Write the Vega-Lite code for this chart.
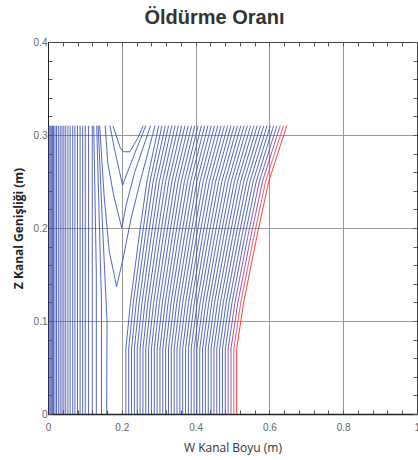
{
"$schema":"https://vega.github.io/schema/vega-lite/v6.json",
"width":369,"height":372,
"autosize":{"type":"none"},
"padding":{"left":48,"top":42,"right":1,"bottom":46},
"background":"white",
"title":{"text":"Öldürme Oranı","font":"Liberation Sans","fontSize":20,"fontWeight":"bold","color":"#333333","anchor":"middle","dx":-18,"dy":23,"offset":12,"baseline":"bottom"},
"config":{"view":{"stroke":"#444444","strokeWidth":1}},
"data":{"values":[
{"k":1,"p":0,"w":0.003,"z":0},{"k":1,"p":1,"w":0.003,"z":0.31},
{"k":2,"p":0,"w":0.006,"z":0},{"k":2,"p":1,"w":0.006,"z":0.31},
{"k":3,"p":0,"w":0.009,"z":0},{"k":3,"p":1,"w":0.009,"z":0.31},
{"k":4,"p":0,"w":0.012,"z":0},{"k":4,"p":1,"w":0.012,"z":0.31},
{"k":5,"p":0,"w":0.015,"z":0},{"k":5,"p":1,"w":0.015,"z":0.31},
{"k":6,"p":0,"w":0.019,"z":0},{"k":6,"p":1,"w":0.019,"z":0.31},
{"k":7,"p":0,"w":0.023,"z":0},{"k":7,"p":1,"w":0.023,"z":0.31},
{"k":8,"p":0,"w":0.028,"z":0},{"k":8,"p":1,"w":0.028,"z":0.31},
{"k":9,"p":0,"w":0.033,"z":0},{"k":9,"p":1,"w":0.033,"z":0.31},
{"k":10,"p":0,"w":0.038,"z":0},{"k":10,"p":1,"w":0.038,"z":0.31},
{"k":11,"p":0,"w":0.043,"z":0},{"k":11,"p":1,"w":0.043,"z":0.31},
{"k":12,"p":0,"w":0.048,"z":0},{"k":12,"p":1,"w":0.048,"z":0.31},
{"k":13,"p":0,"w":0.054,"z":0},{"k":13,"p":1,"w":0.054,"z":0.31},
{"k":14,"p":0,"w":0.060,"z":0},{"k":14,"p":1,"w":0.060,"z":0.31},
{"k":15,"p":0,"w":0.067,"z":0},{"k":15,"p":1,"w":0.067,"z":0.31},
{"k":16,"p":0,"w":0.073,"z":0},{"k":16,"p":1,"w":0.073,"z":0.31},
{"k":17,"p":0,"w":0.080,"z":0},{"k":17,"p":1,"w":0.080,"z":0.31},
{"k":18,"p":0,"w":0.087,"z":0},{"k":18,"p":1,"w":0.087,"z":0.31},
{"k":19,"p":0,"w":0.094,"z":0},{"k":19,"p":1,"w":0.094,"z":0.31},
{"k":20,"p":0,"w":0.101,"z":0},{"k":20,"p":1,"w":0.101,"z":0.31},
{"k":21,"p":0,"w":0.110,"z":0},{"k":21,"p":1,"w":0.110,"z":0.31},
{"k":22,"p":0,"w":0.120,"z":0},{"k":22,"p":1,"w":0.120,"z":0.31},
{"k":23,"p":0,"w":0.131,"z":0},{"k":23,"p":1,"w":0.131,"z":0.15},{"k":23,"p":2,"w":0.124,"z":0.31},
{"k":24,"p":0,"w":0.145,"z":0},{"k":24,"p":1,"w":0.145,"z":0.12},{"k":24,"p":2,"w":0.132,"z":0.31},
{"k":25,"p":0,"w":0.159,"z":0},{"k":25,"p":1,"w":0.160,"z":0.1},{"k":25,"p":2,"w":0.148,"z":0.2},{"k":25,"p":3,"w":0.136,"z":0.31},
{"k":26,"p":0,"w":0.140,"z":0.31},{"k":26,"p":1,"w":0.152,"z":0.235},{"k":26,"p":2,"w":0.166,"z":0.175},{"k":26,"p":3,"w":0.186,"z":0.137},{"k":26,"p":4,"w":0.205,"z":0.17},{"k":26,"p":5,"w":0.225,"z":0.21},{"k":26,"p":6,"w":0.250,"z":0.25},{"k":26,"p":7,"w":0.290,"z":0.31},
{"k":27,"p":0,"w":0.155,"z":0.31},{"k":27,"p":1,"w":0.162,"z":0.27},{"k":27,"p":2,"w":0.178,"z":0.235},{"k":27,"p":3,"w":0.200,"z":0.2},{"k":27,"p":4,"w":0.212,"z":0.225},{"k":27,"p":5,"w":0.235,"z":0.26},{"k":27,"p":6,"w":0.278,"z":0.31},
{"k":28,"p":0,"w":0.168,"z":0.31},{"k":28,"p":1,"w":0.180,"z":0.285},{"k":28,"p":2,"w":0.202,"z":0.246},{"k":28,"p":3,"w":0.225,"z":0.27},{"k":28,"p":4,"w":0.250,"z":0.295},{"k":28,"p":5,"w":0.265,"z":0.31},
{"k":29,"p":0,"w":0.176,"z":0.31},{"k":29,"p":1,"w":0.196,"z":0.286},{"k":29,"p":2,"w":0.205,"z":0.282},{"k":29,"p":3,"w":0.222,"z":0.282},{"k":29,"p":4,"w":0.245,"z":0.298},{"k":29,"p":5,"w":0.258,"z":0.31},
{"k":30,"p":0,"w":0.211,"z":0},{"k":30,"p":1,"w":0.211,"z":0.07},{"k":30,"p":2,"w":0.2235,"z":0.12},{"k":30,"p":3,"w":0.2466,"z":0.19},{"k":30,"p":4,"w":0.268,"z":0.25},{"k":30,"p":5,"w":0.300,"z":0.31},
{"k":31,"p":0,"w":0.2187,"z":0},{"k":31,"p":1,"w":0.2187,"z":0.07},{"k":31,"p":2,"w":0.2313,"z":0.12},{"k":31,"p":3,"w":0.2548,"z":0.19},{"k":31,"p":4,"w":0.2764,"z":0.25},{"k":31,"p":5,"w":0.3089,"z":0.31},
{"k":32,"p":0,"w":0.2264,"z":0},{"k":32,"p":1,"w":0.2264,"z":0.07},{"k":32,"p":2,"w":0.2392,"z":0.12},{"k":32,"p":3,"w":0.263,"z":0.19},{"k":32,"p":4,"w":0.2849,"z":0.25},{"k":32,"p":5,"w":0.3178,"z":0.31},
{"k":33,"p":0,"w":0.2341,"z":0},{"k":33,"p":1,"w":0.2341,"z":0.07},{"k":33,"p":2,"w":0.2471,"z":0.12},{"k":33,"p":3,"w":0.2711,"z":0.19},{"k":33,"p":4,"w":0.2934,"z":0.25},{"k":33,"p":5,"w":0.3267,"z":0.31},
{"k":34,"p":0,"w":0.2418,"z":0},{"k":34,"p":1,"w":0.2418,"z":0.07},{"k":34,"p":2,"w":0.2549,"z":0.12},{"k":34,"p":3,"w":0.2793,"z":0.19},{"k":34,"p":4,"w":0.3018,"z":0.25},{"k":34,"p":5,"w":0.3356,"z":0.31},
{"k":35,"p":0,"w":0.2495,"z":0},{"k":35,"p":1,"w":0.2495,"z":0.07},{"k":35,"p":2,"w":0.2628,"z":0.12},{"k":35,"p":3,"w":0.2875,"z":0.19},{"k":35,"p":4,"w":0.3103,"z":0.25},{"k":35,"p":5,"w":0.3445,"z":0.31},
{"k":36,"p":0,"w":0.2572,"z":0},{"k":36,"p":1,"w":0.2572,"z":0.07},{"k":36,"p":2,"w":0.2707,"z":0.12},{"k":36,"p":3,"w":0.2957,"z":0.19},{"k":36,"p":4,"w":0.3188,"z":0.25},{"k":36,"p":5,"w":0.3534,"z":0.31},
{"k":37,"p":0,"w":0.2649,"z":0},{"k":37,"p":1,"w":0.2649,"z":0.07},{"k":37,"p":2,"w":0.2785,"z":0.12},{"k":37,"p":3,"w":0.3039,"z":0.19},{"k":37,"p":4,"w":0.3272,"z":0.25},{"k":37,"p":5,"w":0.3623,"z":0.31},
{"k":38,"p":0,"w":0.2726,"z":0},{"k":38,"p":1,"w":0.2726,"z":0.07},{"k":38,"p":2,"w":0.2864,"z":0.12},{"k":38,"p":3,"w":0.312,"z":0.19},{"k":38,"p":4,"w":0.3357,"z":0.25},{"k":38,"p":5,"w":0.3712,"z":0.31},
{"k":39,"p":0,"w":0.2803,"z":0},{"k":39,"p":1,"w":0.2803,"z":0.07},{"k":39,"p":2,"w":0.2943,"z":0.12},{"k":39,"p":3,"w":0.3202,"z":0.19},{"k":39,"p":4,"w":0.3442,"z":0.25},{"k":39,"p":5,"w":0.3801,"z":0.31},
{"k":40,"p":0,"w":0.288,"z":0},{"k":40,"p":1,"w":0.288,"z":0.07},{"k":40,"p":2,"w":0.3021,"z":0.12},{"k":40,"p":3,"w":0.3284,"z":0.19},{"k":40,"p":4,"w":0.3526,"z":0.25},{"k":40,"p":5,"w":0.389,"z":0.31},
{"k":41,"p":0,"w":0.2957,"z":0},{"k":41,"p":1,"w":0.2957,"z":0.07},{"k":41,"p":2,"w":0.31,"z":0.12},{"k":41,"p":3,"w":0.3366,"z":0.19},{"k":41,"p":4,"w":0.3611,"z":0.25},{"k":41,"p":5,"w":0.3979,"z":0.31},
{"k":42,"p":0,"w":0.3034,"z":0},{"k":42,"p":1,"w":0.3034,"z":0.07},{"k":42,"p":2,"w":0.3179,"z":0.12},{"k":42,"p":3,"w":0.3448,"z":0.19},{"k":42,"p":4,"w":0.3696,"z":0.25},{"k":42,"p":5,"w":0.4068,"z":0.31},
{"k":43,"p":0,"w":0.3111,"z":0},{"k":43,"p":1,"w":0.3111,"z":0.07},{"k":43,"p":2,"w":0.3257,"z":0.12},{"k":43,"p":3,"w":0.3529,"z":0.19},{"k":43,"p":4,"w":0.378,"z":0.25},{"k":43,"p":5,"w":0.4157,"z":0.31},
{"k":44,"p":0,"w":0.3188,"z":0},{"k":44,"p":1,"w":0.3188,"z":0.07},{"k":44,"p":2,"w":0.3336,"z":0.12},{"k":44,"p":3,"w":0.3611,"z":0.19},{"k":44,"p":4,"w":0.3865,"z":0.25},{"k":44,"p":5,"w":0.4246,"z":0.31},
{"k":45,"p":0,"w":0.3265,"z":0},{"k":45,"p":1,"w":0.3265,"z":0.07},{"k":45,"p":2,"w":0.3415,"z":0.12},{"k":45,"p":3,"w":0.3693,"z":0.19},{"k":45,"p":4,"w":0.395,"z":0.25},{"k":45,"p":5,"w":0.4335,"z":0.31},
{"k":46,"p":0,"w":0.3342,"z":0},{"k":46,"p":1,"w":0.3342,"z":0.07},{"k":46,"p":2,"w":0.3493,"z":0.12},{"k":46,"p":3,"w":0.3775,"z":0.19},{"k":46,"p":4,"w":0.4034,"z":0.25},{"k":46,"p":5,"w":0.4424,"z":0.31},
{"k":47,"p":0,"w":0.3419,"z":0},{"k":47,"p":1,"w":0.3419,"z":0.07},{"k":47,"p":2,"w":0.3572,"z":0.12},{"k":47,"p":3,"w":0.3857,"z":0.19},{"k":47,"p":4,"w":0.4119,"z":0.25},{"k":47,"p":5,"w":0.4513,"z":0.31},
{"k":48,"p":0,"w":0.3496,"z":0},{"k":48,"p":1,"w":0.3496,"z":0.07},{"k":48,"p":2,"w":0.3651,"z":0.12},{"k":48,"p":3,"w":0.3938,"z":0.19},{"k":48,"p":4,"w":0.4204,"z":0.25},{"k":48,"p":5,"w":0.4602,"z":0.31},
{"k":49,"p":0,"w":0.3573,"z":0},{"k":49,"p":1,"w":0.3573,"z":0.07},{"k":49,"p":2,"w":0.373,"z":0.12},{"k":49,"p":3,"w":0.402,"z":0.19},{"k":49,"p":4,"w":0.4289,"z":0.25},{"k":49,"p":5,"w":0.4691,"z":0.31},
{"k":50,"p":0,"w":0.365,"z":0},{"k":50,"p":1,"w":0.365,"z":0.07},{"k":50,"p":2,"w":0.3808,"z":0.12},{"k":50,"p":3,"w":0.4102,"z":0.19},{"k":50,"p":4,"w":0.4373,"z":0.25},{"k":50,"p":5,"w":0.478,"z":0.31},
{"k":51,"p":0,"w":0.3727,"z":0},{"k":51,"p":1,"w":0.3727,"z":0.07},{"k":51,"p":2,"w":0.3887,"z":0.12},{"k":51,"p":3,"w":0.4184,"z":0.19},{"k":51,"p":4,"w":0.4458,"z":0.25},{"k":51,"p":5,"w":0.4869,"z":0.31},
{"k":52,"p":0,"w":0.3804,"z":0},{"k":52,"p":1,"w":0.3804,"z":0.07},{"k":52,"p":2,"w":0.3966,"z":0.12},{"k":52,"p":3,"w":0.4266,"z":0.19},{"k":52,"p":4,"w":0.4543,"z":0.25},{"k":52,"p":5,"w":0.4958,"z":0.31},
{"k":53,"p":0,"w":0.3881,"z":0},{"k":53,"p":1,"w":0.3881,"z":0.07},{"k":53,"p":2,"w":0.4044,"z":0.12},{"k":53,"p":3,"w":0.4347,"z":0.19},{"k":53,"p":4,"w":0.4627,"z":0.25},{"k":53,"p":5,"w":0.5047,"z":0.31},
{"k":54,"p":0,"w":0.3958,"z":0},{"k":54,"p":1,"w":0.3958,"z":0.07},{"k":54,"p":2,"w":0.4123,"z":0.12},{"k":54,"p":3,"w":0.4429,"z":0.19},{"k":54,"p":4,"w":0.4712,"z":0.25},{"k":54,"p":5,"w":0.5136,"z":0.31},
{"k":55,"p":0,"w":0.4035,"z":0},{"k":55,"p":1,"w":0.4035,"z":0.07},{"k":55,"p":2,"w":0.4202,"z":0.12},{"k":55,"p":3,"w":0.4511,"z":0.19},{"k":55,"p":4,"w":0.4797,"z":0.25},{"k":55,"p":5,"w":0.5225,"z":0.31},
{"k":56,"p":0,"w":0.4112,"z":0},{"k":56,"p":1,"w":0.4112,"z":0.07},{"k":56,"p":2,"w":0.428,"z":0.12},{"k":56,"p":3,"w":0.4593,"z":0.19},{"k":56,"p":4,"w":0.4881,"z":0.25},{"k":56,"p":5,"w":0.5314,"z":0.31},
{"k":57,"p":0,"w":0.4189,"z":0},{"k":57,"p":1,"w":0.4189,"z":0.07},{"k":57,"p":2,"w":0.4359,"z":0.12},{"k":57,"p":3,"w":0.4675,"z":0.19},{"k":57,"p":4,"w":0.4966,"z":0.25},{"k":57,"p":5,"w":0.5403,"z":0.31},
{"k":58,"p":0,"w":0.4266,"z":0},{"k":58,"p":1,"w":0.4266,"z":0.07},{"k":58,"p":2,"w":0.4438,"z":0.12},{"k":58,"p":3,"w":0.4756,"z":0.19},{"k":58,"p":4,"w":0.5051,"z":0.25},{"k":58,"p":5,"w":0.5492,"z":0.31},
{"k":59,"p":0,"w":0.4343,"z":0},{"k":59,"p":1,"w":0.4343,"z":0.07},{"k":59,"p":2,"w":0.4516,"z":0.12},{"k":59,"p":3,"w":0.4838,"z":0.19},{"k":59,"p":4,"w":0.5135,"z":0.25},{"k":59,"p":5,"w":0.5581,"z":0.31},
{"k":60,"p":0,"w":0.442,"z":0},{"k":60,"p":1,"w":0.442,"z":0.07},{"k":60,"p":2,"w":0.4595,"z":0.12},{"k":60,"p":3,"w":0.492,"z":0.19},{"k":60,"p":4,"w":0.522,"z":0.25},{"k":60,"p":5,"w":0.567,"z":0.31},
{"k":61,"p":0,"w":0.4497,"z":0},{"k":61,"p":1,"w":0.4497,"z":0.07},{"k":61,"p":2,"w":0.4674,"z":0.12},{"k":61,"p":3,"w":0.5002,"z":0.19},{"k":61,"p":4,"w":0.5305,"z":0.25},{"k":61,"p":5,"w":0.5759,"z":0.31},
{"k":62,"p":0,"w":0.4574,"z":0},{"k":62,"p":1,"w":0.4574,"z":0.07},{"k":62,"p":2,"w":0.4752,"z":0.12},{"k":62,"p":3,"w":0.5084,"z":0.19},{"k":62,"p":4,"w":0.5389,"z":0.25},{"k":62,"p":5,"w":0.5848,"z":0.31},
{"k":63,"p":0,"w":0.4651,"z":0},{"k":63,"p":1,"w":0.4651,"z":0.07},{"k":63,"p":2,"w":0.4831,"z":0.12},{"k":63,"p":3,"w":0.5165,"z":0.19},{"k":63,"p":4,"w":0.5474,"z":0.25},{"k":63,"p":5,"w":0.5937,"z":0.31},
{"k":64,"p":0,"w":0.4728,"z":0},{"k":64,"p":1,"w":0.4728,"z":0.07},{"k":64,"p":2,"w":0.491,"z":0.12},{"k":64,"p":3,"w":0.5247,"z":0.19},{"k":64,"p":4,"w":0.5559,"z":0.25},{"k":64,"p":5,"w":0.6026,"z":0.31},
{"k":65,"p":0,"w":0.4805,"z":0},{"k":65,"p":1,"w":0.4805,"z":0.07},{"k":65,"p":2,"w":0.4988,"z":0.12},{"k":65,"p":3,"w":0.5329,"z":0.19},{"k":65,"p":4,"w":0.5643,"z":0.25},{"k":65,"p":5,"w":0.6115,"z":0.31},
{"k":66,"p":0,"w":0.4882,"z":0},{"k":66,"p":1,"w":0.4882,"z":0.07},{"k":66,"p":2,"w":0.5067,"z":0.12},{"k":66,"p":3,"w":0.5411,"z":0.19},{"k":66,"p":4,"w":0.5728,"z":0.25},{"k":66,"p":5,"w":0.6204,"z":0.31},
{"k":67,"p":0,"w":0.4959,"z":0},{"k":67,"p":1,"w":0.4959,"z":0.07},{"k":67,"p":2,"w":0.5146,"z":0.12},{"k":67,"p":3,"w":0.5493,"z":0.19},{"k":67,"p":4,"w":0.5813,"z":0.25},{"k":67,"p":5,"w":0.6293,"z":0.31},
{"k":68,"p":0,"w":0.5036,"z":0},{"k":68,"p":1,"w":0.5036,"z":0.07},{"k":68,"p":2,"w":0.5224,"z":0.12},{"k":68,"p":3,"w":0.5574,"z":0.19},{"k":68,"p":4,"w":0.5897,"z":0.25},{"k":68,"p":5,"w":0.6382,"z":0.31},
{"k":69,"p":0,"w":0.5113,"z":0},{"k":69,"p":1,"w":0.5113,"z":0.07},{"k":69,"p":2,"w":0.5303,"z":0.12},{"k":69,"p":3,"w":0.5656,"z":0.19},{"k":69,"p":4,"w":0.5982,"z":0.25},{"k":69,"p":5,"w":0.6471,"z":0.31}
]},
"layer":[
{"mark":{"type":"line","strokeWidth":1,"opacity":0.85},
 "encoding":{
  "x":{"field":"w","type":"quantitative","scale":{"domain":[0,1],"nice":false,"zero":false},
   "axis":{"orient":"bottom","values":[0,0.04,0.08,0.12,0.16,0.2,0.24,0.28,0.32,0.36,0.4,0.44,0.48,0.52,0.56,0.6,0.64,0.68,0.72,0.76,0.8,0.84,0.88,0.92,0.96,1],
    "title":"W Kanal Boyu (m)","titleFont":"Open Sans","titleFontSize":12,"titleFontWeight":"normal","titleColor":"#333333","titlePadding":10,
    "labelExpr":"abs(datum.value*5-round(datum.value*5))<0.001 ? format(datum.value,'~g') : ''",
    "labelFont":"Liberation Sans","labelFontSize":10,"labelColor":"#666666","labelPadding":12,"labelFlush":false,"labelOverlap":false,
    "grid":true,"gridColor":"#999999","gridWidth":1,
    "gridOpacity":{"condition":{"test":"abs(datum.value*5-round(datum.value*5))>0.001","value":0},"value":1},
    "tickSize":-4,"tickColor":"#555555","domainColor":"#222222","domainWidth":1.5}},
  "y":{"field":"z","type":"quantitative","scale":{"domain":[0,0.4],"nice":false,"zero":false},
   "axis":{"orient":"left","values":[0,0.02,0.04,0.06,0.08,0.1,0.12,0.14,0.16,0.18,0.2,0.22,0.24,0.26,0.28,0.3,0.32,0.34,0.36,0.38,0.4],
    "title":"Z Kanal Genişliği (m)","titleFont":"Open Sans","titleFontSize":12,"titleFontWeight":"bold","titleColor":"#222222","titlePadding":8,
    "labelExpr":"abs(datum.value*10-round(datum.value*10))<0.001 ? format(datum.value,'~g') : ''",
    "labelFont":"Liberation Sans","labelFontSize":10,"labelColor":"#666666","labelPadding":5,"labelFlush":false,"labelOverlap":false,
    "grid":true,"gridColor":"#999999","gridWidth":1,
    "gridOpacity":{"condition":{"test":"abs(datum.value*10-round(datum.value*10))>0.001","value":0},"value":1},
    "tickSize":-4,"tickColor":"#555555","domainColor":"#222222","domainWidth":1}},
  "detail":{"field":"k"},
  "order":{"field":"p","type":"quantitative"},
  "color":{"field":"k","type":"quantitative","legend":null,
   "scale":{"domain":[1,65,67,68,69],"range":["#3a4db0","#3a4db0","#8a3aa8","#e8405e","#ff2020"]}}
 }},
{"mark":{"type":"line","opacity":0},
 "encoding":{
  "x":{"field":"w","type":"quantitative","scale":{"domain":[0,1],"nice":false,"zero":false},
   "axis":{"orient":"top","values":[0,0.04,0.08,0.12,0.16,0.2,0.24,0.28,0.32,0.36,0.4,0.44,0.48,0.52,0.56,0.6,0.64,0.68,0.72,0.76,0.8,0.84,0.88,0.92,0.96,1],
    "title":null,"labels":false,"grid":false,"tickSize":-4,"tickColor":"#555555","domainColor":"#444444"}},
  "y":{"field":"z","type":"quantitative","scale":{"domain":[0,0.4],"nice":false,"zero":false},
   "axis":{"orient":"right","values":[0,0.02,0.04,0.06,0.08,0.1,0.12,0.14,0.16,0.18,0.2,0.22,0.24,0.26,0.28,0.3,0.32,0.34,0.36,0.38,0.4],
    "title":null,"labels":false,"grid":false,"tickSize":-4,"tickColor":"#555555","domainColor":"#444444"}},
  "detail":{"field":"k"},
  "order":{"field":"p","type":"quantitative"}
 }}
],
"resolve":{"axis":{"x":"independent","y":"independent"}}
}
